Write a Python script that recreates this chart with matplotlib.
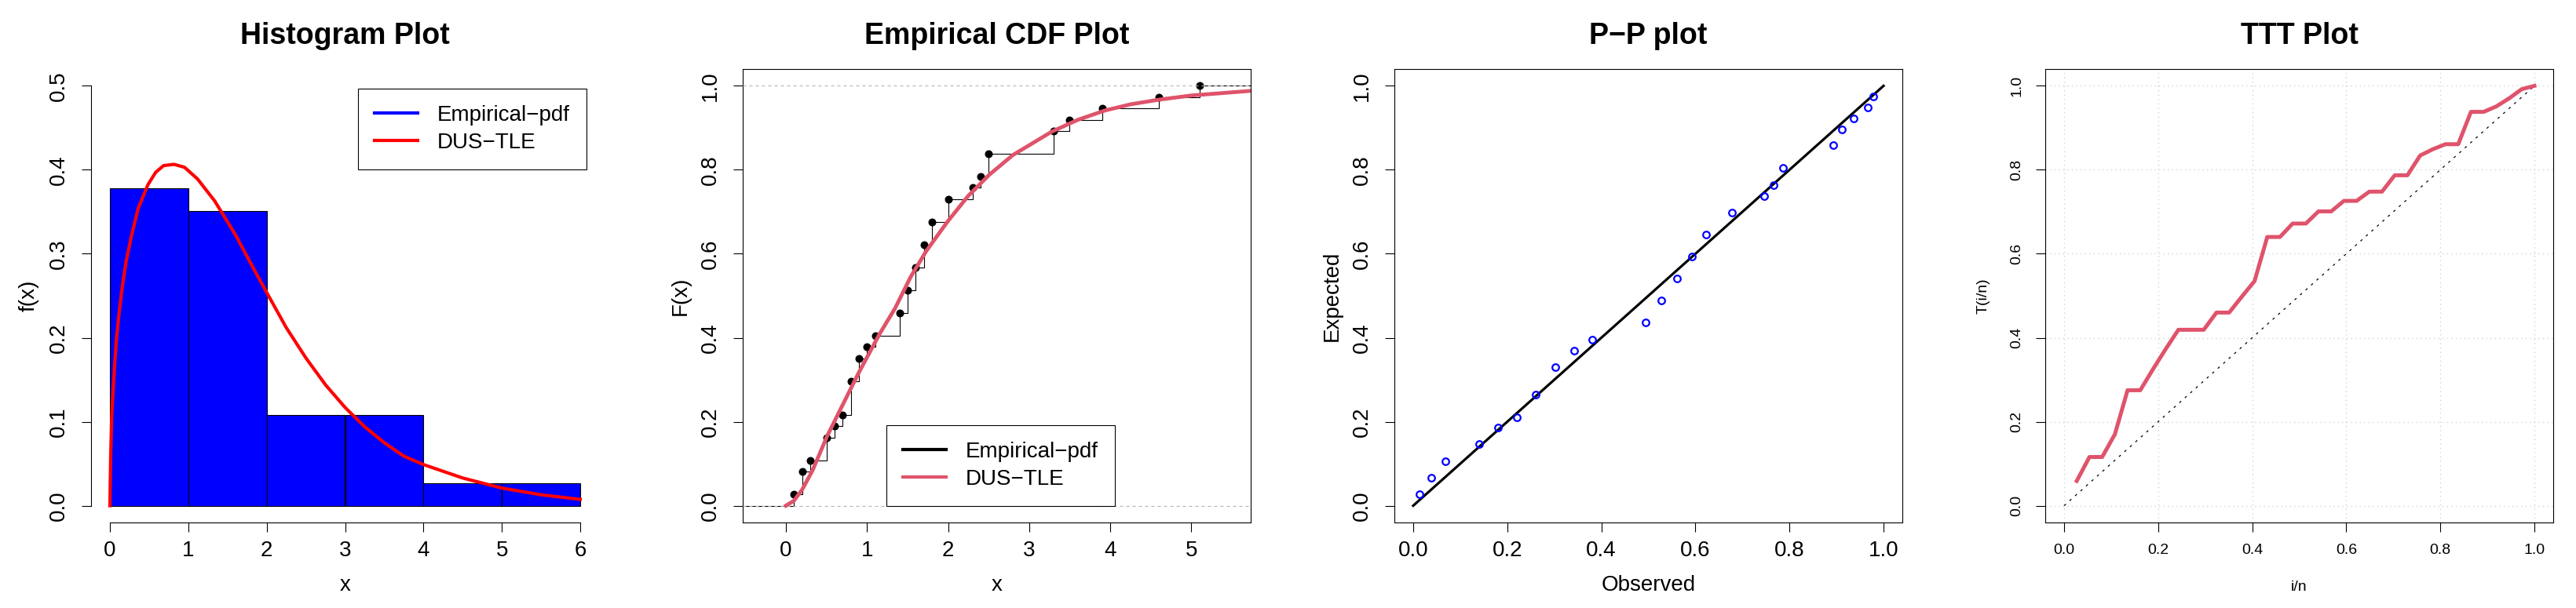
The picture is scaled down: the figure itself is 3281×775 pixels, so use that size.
import matplotlib
matplotlib.use('Agg')
import matplotlib.pyplot as plt
from matplotlib.lines import Line2D
import numpy as np

plt.rcParams['font.family'] = ['Liberation Sans', 'DejaVu Sans']

# ---- data ----
hist_edges = [0, 1, 2, 3, 4, 5, 6]
hist_density = [0.378, 0.351, 0.108, 0.108, 0.027, 0.027]

# fitted DUS-TLE density
pdf_x = [0.0, 0.01, 0.023, 0.04, 0.06, 0.083, 0.117, 0.157, 0.207, 0.277, 0.361, 0.484, 0.584,
         0.685, 0.818, 0.952, 1.119, 1.336, 1.6, 1.8, 2.0, 2.25, 2.5, 2.75, 3.0, 3.25, 3.5,
         3.75, 4.0, 4.5, 5.0, 5.5, 6.0]
pdf_y = [0.0, 0.058, 0.105, 0.135, 0.167, 0.198, 0.229, 0.260, 0.291, 0.322, 0.354, 0.382, 0.397,
         0.405, 0.4065, 0.403, 0.389, 0.363, 0.323, 0.288, 0.254, 0.212, 0.176, 0.144, 0.117, 0.094,
         0.075, 0.059, 0.049, 0.033, 0.021, 0.013, 0.0075]

# empirical CDF jump points
ecdf_x = [0.1, 0.2, 0.3, 0.5, 0.6, 0.7, 0.8, 0.9, 1.0, 1.1, 1.4, 1.5, 1.6, 1.7, 1.8, 2.0,
          2.3, 2.4, 2.5, 3.3, 3.5, 3.9, 4.6, 5.1]
ecdf_y = [0.027, 0.081, 0.108, 0.162, 0.189, 0.216, 0.297, 0.351, 0.378, 0.405, 0.459, 0.514,
          0.568, 0.622, 0.676, 0.730, 0.757, 0.784, 0.838, 0.892, 0.919, 0.946, 0.973, 1.0]

# fitted DUS-TLE CDF
cdf_x = [0.0, 0.1, 0.2, 0.329, 0.507, 0.70, 0.894, 1.152, 1.346, 1.539, 1.733, 1.991, 2.249,
         2.507, 2.798, 3.28, 3.60, 3.93, 4.25, 4.6, 5.0, 5.4, 5.732]
cdf_y = [0.0, 0.012, 0.038, 0.084, 0.165, 0.240, 0.315, 0.408, 0.470, 0.545, 0.607, 0.676, 0.738,
         0.788, 0.835, 0.891, 0.919, 0.941, 0.956, 0.967, 0.977, 0.983, 0.988]

# P-P plot
pp_obs = [0.013, 0.038, 0.069, 0.141, 0.180, 0.220, 0.260, 0.302, 0.342, 0.381, 0.494, 0.528,
          0.561, 0.593, 0.622, 0.677, 0.747, 0.767, 0.786, 0.893, 0.911, 0.937, 0.967, 0.979]
pp_exp = [0.027, 0.067, 0.106, 0.146, 0.186, 0.211, 0.265, 0.330, 0.369, 0.396, 0.436, 0.488,
          0.541, 0.593, 0.646, 0.698, 0.737, 0.764, 0.805, 0.858, 0.896, 0.922, 0.949, 0.975]
ref_line = [0.0, 1.0]

# TTT plot
ttt_u = [0.027, 0.054, 0.081, 0.108, 0.135, 0.162, 0.189, 0.216, 0.243, 0.270, 0.297, 0.324,
         0.351, 0.378, 0.405, 0.432, 0.459, 0.486, 0.514, 0.541, 0.568, 0.595, 0.622, 0.649,
         0.676, 0.703, 0.730, 0.757, 0.784, 0.811, 0.838, 0.865, 0.892, 0.919, 0.946, 0.973, 1.0]
ttt_t = [0.059, 0.116, 0.116, 0.170, 0.275, 0.275, 0.325, 0.373, 0.419, 0.419, 0.419, 0.460,
         0.460, 0.498, 0.535, 0.640, 0.640, 0.672, 0.672, 0.701, 0.701, 0.726, 0.726, 0.748,
         0.748, 0.787, 0.787, 0.834, 0.849, 0.861, 0.861, 0.938, 0.938, 0.951, 0.970, 0.992, 1.0]

# ---- layout (pixels) ----
W, H = 3281, 775
panel_left = [116, 946, 1776, 2605]
panel_w, top, bottom = 647, 88, 666
R_RED = '#DF536B'
TICK = 20
TITLE = 27


def make_axes(fig, i):
    rect = [panel_left[i] / W, (H - bottom) / H, panel_w / W, (bottom - top) / H]
    ax = fig.add_axes(rect)
    for s in ax.spines.values():
        s.set_linewidth(0.8)
    return ax


def style_axes(ax, title, xlabel, ylabel, size=TICK, xpad=8, ypad=11.5):
    ax.tick_params(axis='both', direction='out', length=8.6, width=0.8, labelsize=size)
    ax.tick_params(axis='x', pad=xpad)
    ax.tick_params(axis='y', pad=ypad, labelrotation=90)
    for lab in ax.get_yticklabels():
        lab.set_va('center')
    ax.set_title(title, fontsize=TITLE, fontweight='bold', pad=23)
    ax.set_xlabel(xlabel, fontsize=size)
    ax.xaxis.set_label_coords(0.5, -0.1505)
    ax.xaxis.label.set_va('baseline')
    ax.set_ylabel(ylabel, fontsize=size)
    ax.yaxis.set_label_coords(-0.122, 0.5)
    ax.yaxis.label.set_va('center')


def r_legend(ax, handles, labels, anchor, loc):
    leg = ax.legend(handles, labels, loc=loc, bbox_to_anchor=anchor, fontsize=TICK,
                    frameon=True, fancybox=False, framealpha=1, edgecolor='black',
                    borderaxespad=0, borderpad=0.75, labelspacing=0.33,
                    handlelength=1.98, handletextpad=0.9)
    leg.get_frame().set_linewidth(0.8)
    return leg


fig = plt.figure(figsize=(W / 100, H / 100), dpi=100)

# 1) Histogram
ax = make_axes(fig, 0)
ax.bar(hist_edges[:-1], hist_density, width=np.diff(hist_edges), align='edge',
       color='blue', edgecolor='black', linewidth=0.8)
ax.plot(pdf_x, pdf_y, color='red', lw=3)
ax.set_xlim(-0.24, 6.24)
ax.set_ylim(-0.02, 0.52)
ax.set_xticks(hist_edges)
ax.set_yticks([0.0, 0.1, 0.2, 0.3, 0.4, 0.5])
ax.set_yticklabels(['0.0', '0.1', '0.2', '0.3', '0.4', '0.5'])
ax.spines['top'].set_visible(False)
ax.spines['right'].set_visible(False)
ax.spines['left'].set_bounds(0, 0.5)
ax.spines['bottom'].set_bounds(0, 6)
style_axes(ax, 'Histogram Plot', 'x', 'f(x)')
r_legend(ax, [Line2D([], [], color='blue', lw=3), Line2D([], [], color='red', lw=3)],
         ['Empirical\u2212pdf', 'DUS\u2212TLE'], (0.5255, 0.9567), 'upper left')

# 2) Empirical CDF
ax = make_axes(fig, 1)
ax.set_xlim(-0.532, 5.732)
ax.set_ylim(-0.04, 1.04)
xl = ax.get_xlim()
step_x = [xl[0] - 1] + ecdf_x + [xl[1] + 1]
step_y = [0.0] + ecdf_y + [1.0]
ax.step(step_x, step_y, where='post', color='black', lw=0.8, zorder=2)
ax.plot(ecdf_x, ecdf_y, 'o', color='black', ms=6.2, zorder=3)
for h in (0, 1):
    ax.axhline(h, color='#B3B3B3', lw=0.8, dashes=(3.6, 3.6), zorder=4)
ax.plot(cdf_x, cdf_y, color=R_RED, lw=3.5, zorder=5)
ax.set_xlim(xl)
ax.set_xticks([0, 1, 2, 3, 4, 5])
ax.set_yticks([0.0, 0.2, 0.4, 0.6, 0.8, 1.0])
ax.set_yticklabels(['0.0', '0.2', '0.4', '0.6', '0.8', '1.0'])
style_axes(ax, 'Empirical CDF Plot', 'x', 'F(x)')
r_legend(ax, [Line2D([], [], color='black', lw=3), Line2D([], [], color=R_RED, lw=3)],
         ['Empirical\u2212pdf', 'DUS\u2212TLE'], (0.283, 0.0363), 'lower left')

# 3) P-P plot
ax = make_axes(fig, 2)
ax.plot(ref_line, ref_line, color='black', lw=2.3)
ax.plot(pp_obs, pp_exp, 'o', mfc='none', mec='blue', mew=1.6, ms=6.2)
ax.set_xlim(-0.04, 1.04)
ax.set_ylim(-0.04, 1.04)
ticks01 = [0.0, 0.2, 0.4, 0.6, 0.8, 1.0]
labs01 = ['0.0', '0.2', '0.4', '0.6', '0.8', '1.0']
ax.set_xticks(ticks01)
ax.set_xticklabels(labs01)
ax.set_yticks(ticks01)
ax.set_yticklabels(labs01)
style_axes(ax, 'P\u2212P plot', 'Observed', 'Expected')

# 4) TTT plot
ax = make_axes(fig, 3)
ax.set_axisbelow(True)
ax.grid(True, color='#D3D3D3', lw=1, linestyle=(0, (1, 3)))
ax.plot(ref_line, ref_line, color='black', lw=0.9, dashes=(2.5, 5))
ax.plot(ttt_u, ttt_t, color=R_RED, lw=3.6, solid_joinstyle='round')
ax.set_xlim(-0.04, 1.04)
ax.set_ylim(-0.04, 1.04)
ax.set_xticks(ticks01)
ax.set_xticklabels(labs01)
ax.set_yticks(ticks01)
ax.set_yticklabels(labs01)
style_axes(ax, 'TTT Plot', 'i/n', 'T(i/n)', size=14, xpad=10.8, ypad=11.5)

fig.savefig('out.png', dpi=100)
